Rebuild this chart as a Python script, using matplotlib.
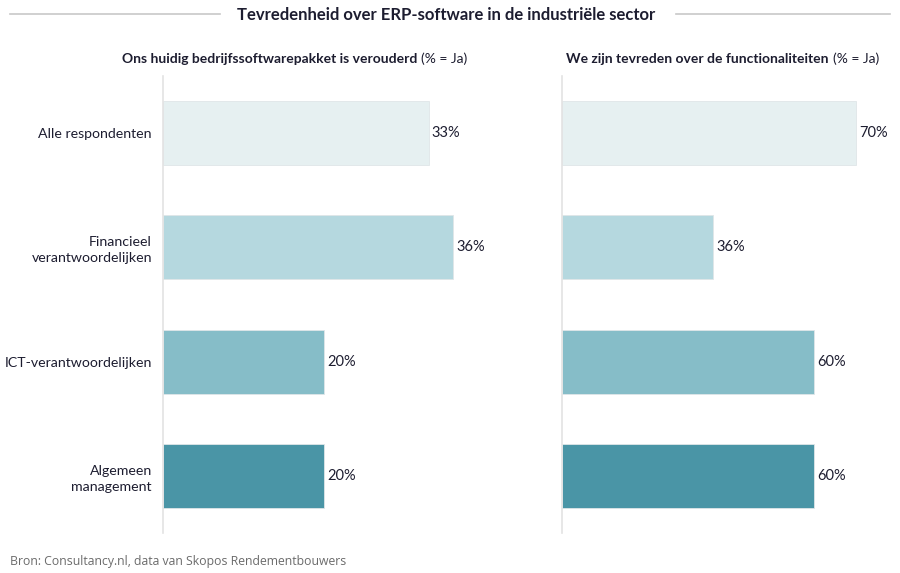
import matplotlib.pyplot as plt

plt.rcParams['font.family'] = ['Lato', 'DejaVu Sans']

categories = ['Alle respondenten', 'Financieel\nverantwoordelijken',
              'ICT-verantwoordelijken', 'Algemeen\nmanagement']
verouderd = [33, 36, 20, 20]
tevreden = [70, 36, 60, 60]
colors = ['#E6F0F1', '#B5D8DF', '#86BDC8', '#4A95A6']
txt = '#1d1d30'

W, H = 900, 573
fig = plt.figure(figsize=(9, 5.73), dpi=100)

def px_axes(x0, x1, y0, y1):
    return fig.add_axes([x0 / W, 1 - y1 / H, (x1 - x0) / W, (y1 - y0) / H])

# plot area from y=76 to 533 -> 4 rows
ax1 = px_axes(163, 163 + 8.05 * 40, 76, 533)
ax2 = px_axes(562, 562 + 4.2 * 75, 76, 533)

for ax, vals, xmax in [(ax1, verouderd, 40), (ax2, tevreden, 75)]:
    y = range(len(vals))
    ax.barh(y, vals, height=0.56, color=colors, edgecolor='#dfe6e8', linewidth=0.6)
    for i, v in enumerate(vals):
        ax.text(v + 0.4 * xmax / 40, i, f'{v}%', va='center', ha='left',
                fontsize=10.5, color=txt)
    ax.set_xlim(0, xmax)
    ax.set_ylim(len(vals) - 0.5, -0.5)
    ax.set_xticks([])
    for s in ['top', 'right', 'bottom']:
        ax.spines[s].set_visible(False)
    ax.spines['left'].set_color('#e3e3e3')
    ax.spines['left'].set_linewidth(1.2)
    ax.tick_params(axis='y', length=0, pad=8)

ax1.set_yticks(range(len(categories)))
ax1.set_yticklabels(categories, fontsize=10.2, color=txt, linespacing=1.4)
ax2.set_yticks([])

# title with side lines
fig.text(446 / W, 1 - 15 / H, 'Tevredenheid over ERP-software in de industriële sector',
         ha='center', va='center', fontsize=12, fontweight='bold', color=txt)
fig.add_artist(plt.Line2D([10 / W, 220 / W], [1 - 14 / H, 1 - 14 / H], color='#c8c8c8', lw=1.2))
fig.add_artist(plt.Line2D([676 / W, 890 / W], [1 - 14 / H, 1 - 14 / H], color='#c8c8c8', lw=1.2))

# subtitles: bold part + normal part
fig.text(417 / W, 1 - 59 / H, 'Ons huidig bedrijfssoftwarepakket is verouderd',
         ha='right', va='center', fontsize=10, fontweight='bold', color=txt)
fig.text(421 / W, 1 - 59 / H, '(% = Ja)', ha='left', va='center', fontsize=10, color=txt)
fig.text(829 / W, 1 - 59 / H, 'We zijn tevreden over de functionaliteiten',
         ha='right', va='center', fontsize=10, fontweight='bold', color=txt)
fig.text(833 / W, 1 - 59 / H, '(% = Ja)', ha='left', va='center', fontsize=10, color=txt)

fig.text(10 / W, 1 - 562 / H, 'Bron: Consultancy.nl, data van Skopos Rendementbouwers',
         ha='left', va='center', fontsize=8.8, color='#6b6b6b', family=['Open Sans', 'DejaVu Sans'])

fig.savefig('out.png', dpi=100)
